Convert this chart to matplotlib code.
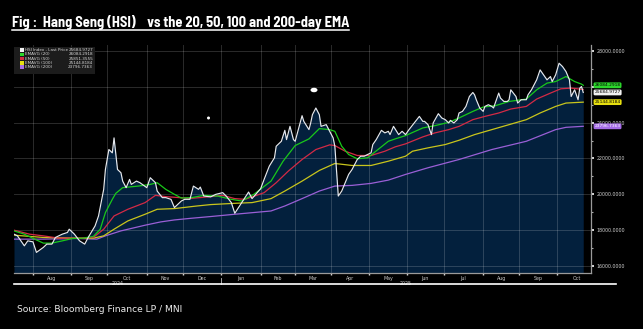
import numpy as np
import pandas as pd
import matplotlib
matplotlib.use("Agg")
import matplotlib.pyplot as plt
from matplotlib.patches import Rectangle, Ellipse
from matplotlib.lines import Line2D
import matplotlib.transforms as mtransforms

# ---- data ----
price_dates = [
    "2024-07-17", "2024-07-19", "2024-07-25", "2024-07-29", "2024-08-01", "2024-08-05", "2024-08-09",
    "2024-08-13", "2024-08-16", "2024-08-20", "2024-08-26", "2024-08-29", "2024-08-30", "2024-09-04",
    "2024-09-09", "2024-09-12", "2024-09-16", "2024-09-20", "2024-09-24", "2024-09-27", "2024-09-30",
    "2024-10-02", "2024-10-04", "2024-10-07", "2024-10-09", "2024-10-11", "2024-10-14", "2024-10-16",
    "2024-10-18", "2024-10-21", "2024-10-24", "2024-10-28", "2024-11-01", "2024-11-05", "2024-11-08",
    "2024-11-11", "2024-11-14", "2024-11-18", "2024-11-21", "2024-11-25", "2024-11-29", "2024-12-03",
    "2024-12-06", "2024-12-10", "2024-12-13", "2024-12-16", "2024-12-18", "2024-12-24", "2024-12-27",
    "2025-01-02", "2025-01-06", "2025-01-09", "2025-01-13", "2025-01-17", "2025-01-23", "2025-01-27",
    "2025-02-03", "2025-02-05", "2025-02-10", "2025-02-13", "2025-02-14", "2025-02-19", "2025-02-21",
    "2025-02-24", "2025-02-26", "2025-02-28", "2025-03-03", "2025-03-07", "2025-03-10", "2025-03-13",
    "2025-03-14", "2025-03-17", "2025-03-19", "2025-03-21", "2025-03-24", "2025-03-27", "2025-03-31",
    "2025-04-02", "2025-04-03", "2025-04-07", "2025-04-09", "2025-04-11", "2025-04-15", "2025-04-17",
    "2025-04-22", "2025-04-24", "2025-04-28", "2025-05-02", "2025-05-05", "2025-05-07", "2025-05-12",
    "2025-05-14", "2025-05-16", "2025-05-19", "2025-05-21", "2025-05-26", "2025-05-28", "2025-05-30",
    "2025-06-03", "2025-06-06", "2025-06-11", "2025-06-13", "2025-06-16", "2025-06-18", "2025-06-20",
    "2025-06-23", "2025-06-26", "2025-06-30", "2025-07-02", "2025-07-04", "2025-07-07", "2025-07-09",
    "2025-07-11", "2025-07-14", "2025-07-16", "2025-07-18", "2025-07-22", "2025-07-24", "2025-07-25",
    "2025-07-28", "2025-07-30", "2025-08-01", "2025-08-04", "2025-08-06", "2025-08-08", "2025-08-11",
    "2025-08-14", "2025-08-15", "2025-08-19", "2025-08-21", "2025-08-22", "2025-08-25", "2025-08-28",
    "2025-08-29", "2025-09-02", "2025-09-05", "2025-09-08", "2025-09-10", "2025-09-12", "2025-09-15",
    "2025-09-17", "2025-09-19", "2025-09-23", "2025-09-25", "2025-09-26", "2025-09-30", "2025-10-02",
    "2025-10-06", "2025-10-08", "2025-10-10", "2025-10-13", "2025-10-15", "2025-10-17", "2025-10-20",
    "2025-10-21", "2025-10-22",
]
price_vals = [
    17778, 17683, 17127, 17405, 17350, 16760, 17038,
    17222, 17222, 17594, 17778, 17872, 18055, 17778,
    17405, 17222, 17594, 18239, 18794, 20278, 21389,
    22500, 22316, 23150, 21389, 21205, 20739, 20372,
    20833, 20555, 20739, 20650, 20372, 20928, 20650,
    20183, 19816, 19816, 19722, 19261, 19627, 19722,
    19722, 20461, 20278, 20405, 19905, 19860, 20000,
    20094, 19905, 19539, 18944, 19539, 20128, 19761,
    20317, 20833, 21572, 22039, 22683, 22961, 23572,
    23055, 23794, 23055, 22961, 24389, 24072, 23611,
    23983, 24444, 24817, 24444, 23794, 23889, 23517,
    23150, 22683, 19905, 20183, 20650, 21111, 21389,
    21944, 22128, 22128, 22316, 22778, 23055, 23572,
    23428, 23517, 23333, 23794, 23333, 23517, 23333,
    23611, 23983, 24350, 24072, 24072, 23889, 23333,
    23983, 24500, 24261, 24167, 23983, 24128, 23983,
    24167, 24539, 24628, 24906, 25461, 25683, 25555,
    25278, 24817, 24628, 24906, 25000, 24906, 24817,
    25650, 25372, 25183, 25183, 25278, 25833, 25461,
    25094, 25278, 25278, 25555, 25833, 26206, 26389,
    26944, 26667, 26389, 26572, 26294, 26667, 27317,
    27128, 26850, 26389, 25461, 25833, 25278, 25928,
    26017, 25684.9727,
]

ema20_dates = [
    "2024-07-17", "2024-07-25", "2024-08-02", "2024-08-09", "2024-08-16", "2024-08-26", "2024-09-03",
    "2024-09-11", "2024-09-19", "2024-09-25", "2024-09-30", "2024-10-04", "2024-10-08", "2024-10-14",
    "2024-10-25", "2024-11-05", "2024-11-11", "2024-11-18", "2024-11-25", "2024-11-29", "2024-12-09",
    "2024-12-18", "2024-12-30", "2025-01-09", "2025-01-17", "2025-01-28", "2025-02-11", "2025-02-20",
    "2025-03-03", "2025-03-13", "2025-03-21", "2025-03-31", "2025-04-03", "2025-04-09", "2025-04-15",
    "2025-04-22", "2025-04-30", "2025-05-08", "2025-05-16", "2025-05-22", "2025-05-30", "2025-06-13",
    "2025-06-24", "2025-07-04", "2025-07-14", "2025-07-24", "2025-08-01", "2025-08-12", "2025-08-22",
    "2025-09-05", "2025-09-15", "2025-09-23", "2025-09-30", "2025-10-08", "2025-10-15", "2025-10-21",
    "2025-10-22",
]
ema20_vals = [
    17961, 17778, 17500, 17278, 17278, 17405, 17539,
    17555, 17650, 18055, 18983, 19722, 20055, 20372,
    20461, 20555, 20650, 20278, 20000, 19794, 19816,
    19944, 19905, 19722, 19628, 20000, 20739, 21850,
    22722, 23094, 23667, 23611, 23517, 22683, 22222,
    21983, 22039, 22500, 22961, 23094, 23278, 23706,
    23833, 24017, 24261, 24628, 24872, 24944, 25183,
    25317, 25833, 26206, 26294, 26572, 26294, 26150,
    26084.2918,
]

ema50_dates = [
    "2024-07-17", "2024-07-30", "2024-08-09", "2024-08-22", "2024-09-05", "2024-09-19", "2024-09-27",
    "2024-10-07", "2024-10-17", "2024-10-31", "2024-11-08", "2024-11-18", "2024-11-28", "2024-12-09",
    "2024-12-24", "2025-01-02", "2025-01-13", "2025-01-21", "2025-02-05", "2025-02-14", "2025-02-25",
    "2025-03-07", "2025-03-19", "2025-03-31", "2025-04-03", "2025-04-11", "2025-04-22", "2025-05-02",
    "2025-05-14", "2025-05-22", "2025-05-30", "2025-06-13", "2025-06-24", "2025-07-04", "2025-07-14",
    "2025-07-24", "2025-08-04", "2025-08-14", "2025-08-25", "2025-09-05", "2025-09-15", "2025-09-25",
    "2025-10-03", "2025-10-13", "2025-10-22",
]
ema50_vals = [
    18000, 17778, 17683, 17555, 17555, 17594, 18055,
    18794, 19167, 19539, 19944, 19872, 19816, 19778,
    19872, 19944, 19761, 19722, 20094, 20650, 21295,
    21944, 22500, 22761, 22722, 22406, 22167, 22167,
    22406, 22650, 22817, 23206, 23428, 23611, 23794,
    24167, 24350, 24539, 24761, 24906, 25317, 25650,
    25889, 25928, 25851.3555,
]

ema100_dates = [
    "2024-07-17", "2024-08-09", "2024-09-05", "2024-09-19", "2024-09-27", "2024-10-07", "2024-10-17",
    "2024-10-31", "2024-11-11", "2024-11-25", "2024-12-12", "2024-12-24", "2025-01-13", "2025-01-27",
    "2025-02-11", "2025-02-21", "2025-03-07", "2025-03-21", "2025-04-03", "2025-04-17", "2025-05-02",
    "2025-05-16", "2025-05-30", "2025-06-05", "2025-06-18", "2025-07-02", "2025-07-14", "2025-07-25",
    "2025-08-08", "2025-08-22", "2025-09-05", "2025-09-17", "2025-09-30", "2025-10-08", "2025-10-22",
]
ema100_vals = [
    17722, 17594, 17555, 17555, 17683, 18055, 18517,
    18889, 19167, 19205, 19350, 19428, 19500, 19539,
    19761, 20183, 20739, 21333, 21722, 21611, 21611,
    21850, 22128, 22406, 22594, 22778, 23017, 23333,
    23611, 23889, 24167, 24539, 24906, 25094, 25144.8184,
]

ema200_dates = [
    "2024-07-17", "2024-08-09", "2024-09-05", "2024-09-23", "2024-09-30", "2024-10-11", "2024-10-31",
    "2024-11-13", "2024-11-25", "2024-12-09", "2024-12-24", "2025-01-13", "2025-02-11", "2025-02-21",
    "2025-03-07", "2025-03-21", "2025-04-03", "2025-04-17", "2025-05-02", "2025-05-16", "2025-05-30",
    "2025-06-18", "2025-07-14", "2025-08-08", "2025-09-05", "2025-09-30", "2025-10-08", "2025-10-22",
]
ema200_vals = [
    17500, 17500, 17539, 17500, 17683, 17961, 18278,
    18461, 18572, 18667, 18761, 18889, 19072, 19350,
    19761, 20183, 20461, 20500, 20611, 20794, 21111,
    21483, 21944, 22500, 22961, 23611, 23739, 23796.7363,
]

series_names = ["HSI Index - Last Price", "EMAVG (20)", "EMAVG (50)", "EMAVG (100)", "EMAVG (200)"]
series_colors = ["#e6e9ee", "#19c81a", "#d42a45", "#c9c51c", "#9a5fd6"]
tag_colors = ["#f2f2f2", "#2bd62b", "#d42a45", "#e6df10", "#a56de6"]
month_names = ["Aug", "Sep", "Oct", "Nov", "Dec", "Jan", "Feb", "Mar", "Apr", "May", "Jun", "Jul", "Aug", "Sep", "Oct"]
y_ticks = [16000, 18000, 20000, 22000, 24000, 26000, 28000]

# ---- trading-day axis (like the terminal chart) ----
bdays = pd.bdate_range("2024-07-01", "2025-12-31")
start_i = bdays.searchsorted(pd.Timestamp(price_dates[0]))


def pos(dates):
    return bdays.searchsorted(pd.to_datetime(dates)) - start_i


W, H = 643, 329
fig = plt.figure(figsize=(W / 100, H / 100), dpi=100, facecolor="black")
ax = fig.add_axes([14 / W, 56 / H, 577 / W, 228 / H])
ax.set_facecolor("black")

xp = pos(price_dates)
x_end = xp[-1] + 4.5
ax.set_xlim(xp[0], x_end)
ax.set_ylim(15611, 28333)

ax.fill_between(xp, price_vals, 10000, color="#03203d", lw=0, zorder=1)

all_dates = [price_dates, ema20_dates, ema50_dates, ema100_dates, ema200_dates]
all_vals = [price_vals, ema20_vals, ema50_vals, ema100_vals, ema200_vals]
for k in [4, 3, 2, 1, 0]:
    ax.plot(pos(all_dates[k]), all_vals[k], color=series_colors[k], lw=0.9 if k else 0.85,
            zorder=4 if k == 0 else 3, solid_joinstyle="round")

# grid, axes
month_starts = pd.date_range("2024-08-01", "2025-11-01", freq="MS")
mpos = pos(month_starts)
ax.set_xticks(mpos[:-1])
ax.set_xticklabels([])
ax.set_yticks(y_ticks)
ax.set_yticks(np.arange(17000, 28000, 2000), minor=True)
ax.yaxis.tick_right()
# 26000 label sits under the last-price tag on the original
ax.set_yticklabels(["" if v == 26000 else f"{v:.4f}" for v in y_ticks], fontsize=3.4, color="#cfcfcf")
ax.tick_params(axis="y", which="major", direction="out", length=2.5, width=1.4, color="#d8d8d8", pad=1.5)
ax.tick_params(axis="y", which="minor", direction="out", length=1.5, width=0.8, color="#b0b0b0")
ax.tick_params(axis="x", which="major", direction="out", length=1.6, width=1.0, color="#d8d8d8")
ax.grid(True, which="major", color="white", alpha=0.17, lw=0.7)
for s in ["left", "top"]:
    ax.spines[s].set_visible(False)
for s in ["right", "bottom"]:
    ax.spines[s].set_color("#9a9a9a")
    ax.spines[s].set_linewidth(0.9)

trans = mtransforms.blended_transform_factory(ax.transData, ax.transAxes)
for i, name in enumerate(month_names):
    ax.text((mpos[i] + mpos[i + 1]) / 2, -0.011, name, transform=trans, fontsize=3.4,
            color="#cfcfcf", ha="center", va="top")
jan = pos(["2025-01-01"])[0]
ax.text((xp[0] + jan) / 2, -0.034, "2024", transform=trans, fontsize=3.4, color="#cfcfcf", ha="center", va="top")
ax.text((jan + x_end) / 2, -0.034, "2025", transform=trans, fontsize=3.4, color="#cfcfcf", ha="center", va="top")
ax.plot([jan, jan], [-0.022, -0.048], transform=trans, color="#bdbdbd", lw=0.6, clip_on=False)

# last value tags on the right axis
ytrans = mtransforms.blended_transform_factory(ax.transAxes, ax.transData)
for k in [0, 1, 3, 4]:
    v = all_vals[k][-1]
    ax.text(1.006, v, f"{v:.4f}", transform=ytrans, fontsize=3.2, va="center", ha="left",
            color="white" if k == 4 else "black", zorder=6,
            bbox=dict(boxstyle="round,pad=0.2,rounding_size=0.3", fc=tag_colors[k], ec="none"))

# legend box
fig.patches.append(Rectangle((14 / W, 1 - 74 / H), 81 / W, 27 / H, transform=fig.transFigure,
                             fc="#1c1c1c", ec="none", zorder=5))
for i in range(5):
    yy = 1 - (50 + 4.3 * i) / H
    fig.patches.append(Rectangle((20 / W, yy - 1.8 / H), 3.6 / W, 3.6 / H, transform=fig.transFigure,
                                 fc=tag_colors[i], ec="none", zorder=6))
    fig.text(25 / W, yy, series_names[i], fontsize=3.0, color="#d8d8d8", va="center", zorder=6)
    fig.text(93 / W, yy, f"{all_vals[i][-1]:.4f}", fontsize=3.0, color="#d8d8d8", va="center", ha="right", zorder=6)

# stray white blobs present on the original
fig.patches.append(Ellipse((314 / W, 1 - 90 / H), 7 / W, 4.5 / H, transform=fig.transFigure, fc="white", ec="none"))
fig.patches.append(Ellipse((208.5 / W, 1 - 118 / H), 3 / W, 3 / H, transform=fig.transFigure, fc="white", ec="none"))

# title with underline
title = fig.text(12 / W, 1 - 27 / H, "Fig :  Hang Seng (HSI)    vs the 20, 50, 100 and 200-day EMA",
                 fontsize=10.4, fontweight="bold", color="white",
                 family=["Barlow Semi Condensed", "DejaVu Sans"], va="baseline")
fig.canvas.draw()
bb = title.get_window_extent()
fig.lines.append(Line2D([bb.x0 / W, bb.x1 / W], [1 - 29.5 / H] * 2, transform=fig.transFigure,
                        color="white", lw=1.1))

fig.lines.append(Line2D([14 / W, 616 / W], [1 - 284 / H] * 2, transform=fig.transFigure, color="white", lw=1.2))
fig.text(17 / W, 1 - 309 / H, "Source: Bloomberg Finance LP / MNI", fontsize=6.6, color="#ececec", va="center")

fig.savefig("out.png", dpi=100, facecolor="black")
